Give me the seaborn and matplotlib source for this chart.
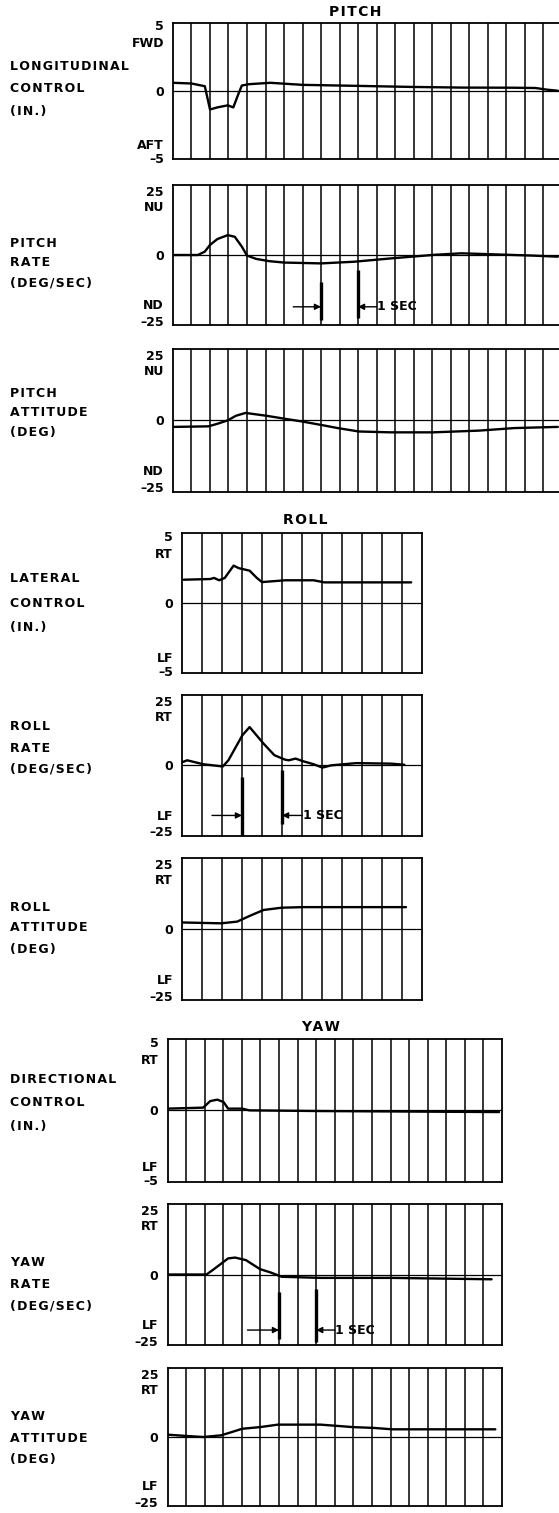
import numpy as np
import matplotlib
matplotlib.use("Agg")
import matplotlib.pyplot as plt
import seaborn as sns

# Strip-chart traces (time in s, one grid division = 0.5 s)
pitch_ctrl_t = [0, 0.5, 0.86, 1.0, 1.2, 1.48, 1.63, 1.77, 1.86, 2.06, 2.63, 3.5, 4.9, 6.4, 7.8, 9.2, 9.8, 10.1, 10.4]
pitch_ctrl = [0.6, 0.55, 0.35, -1.35, -1.2, -1.05, -1.2, -0.2, 0.4, 0.5, 0.6, 0.45, 0.38, 0.3, 0.25, 0.24, 0.22, 0.1, 0.02]

pitch_rate_t = [0, 0.67, 0.86, 1.0, 1.2, 1.48, 1.67, 1.86, 2.0, 2.25, 2.6, 3.0, 4.0, 4.9, 5.9, 6.45, 7.1, 7.8, 8.75, 9.7, 10.4]
pitch_rate = [0, 0, 1.2, 3.6, 5.7, 7.1, 6.5, 3.0, -0.2, -1.4, -2.2, -2.7, -3.0, -2.4, -1.2, -0.6, 0.1, 0.6, 0.2, -0.2, -0.6]

pitch_att_t = [0, 0.96, 1.2, 1.48, 1.7, 1.96, 2.53, 3.0, 3.49, 4.0, 4.45, 5.02, 5.88, 7.03, 8.27, 9.23, 10.4]
pitch_att = [-2.3, -2.1, -1.2, 0, 1.6, 2.6, 1.6, 0.6, -0.4, -1.6, -2.7, -3.9, -4.2, -4.2, -3.6, -2.7, -2.3]

roll_ctrl_t = [0.04, 0.71, 0.8, 0.93, 1.07, 1.29, 1.42, 1.69, 1.87, 2.0, 2.58, 3.29, 3.56, 4.36, 5.73]
roll_ctrl = [1.67, 1.72, 1.8, 1.63, 1.8, 2.68, 2.5, 2.32, 1.8, 1.5, 1.63, 1.63, 1.48, 1.48, 1.48]

roll_rate_t = [0.02, 0.13, 0.53, 1.02, 1.16, 1.51, 1.69, 2.04, 2.31, 2.58, 2.67, 2.84, 3.02, 3.29, 3.51, 3.73, 4.36, 5.24, 5.56]
roll_rate = [1.2, 1.8, 0.4, -0.4, 1.8, 10.7, 13.6, 7.7, 3.6, 2.0, 1.8, 2.4, 1.5, 0.4, -0.8, 0.0, 0.8, 0.6, 0.2]

roll_att_t = [0, 0.98, 1.38, 1.69, 2.04, 2.49, 3.02, 5.6]
roll_att = [2.3, 2.0, 2.6, 4.6, 6.7, 7.5, 7.7, 7.7]

yaw_ctrl_t = [0, 0.96, 1.15, 1.34, 1.51, 1.63, 2.01, 2.2, 4.12, 8.92]
yaw_ctrl = [0.12, 0.19, 0.65, 0.75, 0.58, 0.12, 0.12, 0.0, -0.05, -0.12]

yaw_rate_t = [0, 1.05, 1.25, 1.63, 1.82, 2.11, 2.49, 2.78, 3.07, 4.12, 6.04, 8.72]
yaw_rate = [0, 0, 1.9, 5.7, 6.0, 5.1, 1.9, 0.7, -0.8, -1.2, -1.2, -1.7]

yaw_att_t = [0, 0.48, 0.96, 1.44, 1.73, 2.01, 2.49, 2.97, 4.12, 4.99, 5.56, 6.04, 8.82]
yaw_att = [0.85, 0.4, 0.0, 0.6, 1.8, 3.0, 3.6, 4.5, 4.5, 3.6, 3.3, 2.8, 2.8]

# "1 SEC" reference marks on the rate traces
pitch_sec = [4.0, 5.0]
roll_sec = [1.5, 2.5]
yaw_sec = [3.0, 4.0]

W, H = 559, 1513
sns.set_style("white")
plt.rcParams['font.family'] = ['DejaVu Sans']
plt.rcParams['font.weight'] = 'bold'
plt.rcParams['text.color'] = 'black'
plt.rcParams['ytick.color'] = 'black'
FS = 9
SP = '\u200a'  # hair space, gives the spaced-out lettering of the original

fig = plt.figure(figsize=(W / 100, H / 100), dpi=100)


def spaced(s, sp=SP):
    return sp.join(s)


def px_axes(left, top, right, bottom):
    return fig.add_axes([left / W, 1 - bottom / H, (right - left) / W, (bottom - top) / H])


def strip(ax, t, y, tmax, lim, ticks, labels):
    ax.set_xlim(0, tmax)
    ax.set_ylim(-lim, lim)
    ax.set_xticks(np.arange(0.5, tmax, 0.5))
    ax.grid(axis='x', color='black', lw=1.1)
    ax.tick_params(axis='x', length=0, labelbottom=False)
    ax.set_yticks(ticks)
    ax.set_yticklabels(labels, fontweight='bold', color='black')
    ax.tick_params(axis='y', length=0, pad=6.5, labelsize=FS)
    for s in ax.spines.values():
        s.set_color('black')
        s.set_linewidth(1.3)
    ax.axhline(0, color='black', lw=0.9, zorder=2)
    sns.lineplot(x=t, y=y, ax=ax, color='black', lw=1.7, zorder=3)
    ax.set_xlabel('')
    ax.set_ylabel('')


def one_sec(ax, marks, seg0, seg1, ya, tail):
    ax.vlines(marks[0], seg0[0], seg0[1], color='black', lw=2.4, zorder=4)
    ax.vlines(marks[1], seg1[0], seg1[1], color='black', lw=2.4, zorder=4)
    ap = dict(arrowstyle='-|>', color='black', lw=1.0, mutation_scale=9, shrinkA=0, shrinkB=0)
    ax.annotate('', xy=(marks[0], ya), xytext=(marks[0] - tail, ya), arrowprops=ap)
    ax.annotate('', xy=(marks[1], ya), xytext=(marks[1] + 0.5, ya), arrowprops=ap)
    ax.text(marks[1] + 0.52, ya, '1 SEC', ha='left', va='center', fontsize=FS, fontweight='bold')


def side_label(lines, yc, gap):
    n = len(lines)
    for i, s in enumerate(lines):
        fig.text(10 / W, 1 - (yc + (i - (n - 1) / 2) * gap) / H, spaced(s), ha='left', va='center',
                 fontsize=FS, fontweight='bold')


def group_title(s, xc, yc):
    fig.text(xc / W, 1 - yc / H, spaced(s), ha='center', va='center',
             fontsize=10, fontweight='bold')


ctrl_ticks = [4.8, 3.6, 0, -3.9, -4.9]
big_ticks = [23, 17.5, 0, -17.5, -23.5]

# ---------------- PITCH ----------------
group_title('PITCH', 355, 12)
ax = px_axes(173, 22.7, 580, 159.3)
strip(ax, pitch_ctrl_t, pitch_ctrl, 11, 5, ctrl_ticks, ['5', 'FWD', '0', 'AFT', '\u20135'])
side_label(['LONGITUDINAL', 'CONTROL', '(IN.)'], 89, 23)

ax = px_axes(173, 185, 580, 325)
strip(ax, pitch_rate_t, pitch_rate, 11, 25, big_ticks, ['25', 'NU', '0', 'ND', '\u201325'])
one_sec(ax, pitch_sec, (-9.5, -23.2), (-5.4, -22.6), -18.5, 0.75)
side_label(['PITCH', 'RATE', '(DEG/SEC)'], 263, 19.5)

ax = px_axes(173, 349, 580, 491.7)
strip(ax, pitch_att_t, pitch_att, 11, 25, big_ticks, ['25', 'NU', '0', 'ND', '\u201325'])
side_label(['PITCH', 'ATTITUDE', '(DEG)'], 413, 19.5)

# ---------------- ROLL ----------------
group_title('ROLL', 305, 520)
ax = px_axes(182, 533.3, 422, 672.7)
strip(ax, roll_ctrl_t, roll_ctrl, 6, 5, ctrl_ticks, ['5', 'RT', '0', 'LF', '\u20135'])
side_label(['LATERAL', 'CONTROL', '(IN.)'], 603, 24)

ax = px_axes(182, 695, 422, 835.7)
strip(ax, roll_rate_t, roll_rate, 6, 25, big_ticks, ['25', 'RT', '0', 'LF', '\u201325'])
one_sec(ax, roll_sec, (-4.1, -25), (-1.8, -20.7), -17.8, 0.75)
side_label(['ROLL', 'RATE', '(DEG/SEC)'], 748, 21)

ax = px_axes(182, 858, 422, 1000)
strip(ax, roll_att_t, roll_att, 6, 25, big_ticks, ['25', 'RT', '0', 'LF', '\u201325'])
side_label(['ROLL', 'ATTITUDE', '(DEG)'], 928, 21)

# ---------------- YAW ----------------
group_title('YAW', 321, 1027)
ax = px_axes(167.5, 1039, 502, 1181.7)
strip(ax, yaw_ctrl_t, yaw_ctrl, 9, 5, ctrl_ticks, ['5', 'RT', '0', 'LF', '\u20135'])
side_label(['DIRECTIONAL', 'CONTROL', '(IN.)'], 1103, 23.3)

ax = px_axes(167.5, 1204, 502, 1345)
strip(ax, yaw_rate_t, yaw_rate, 9, 25, big_ticks, ['25', 'RT', '0', 'LF', '\u201325'])
one_sec(ax, yaw_sec, (-6.1, -22.7), (-5.0, -23.9), -19.7, 0.85)
side_label(['YAW', 'RATE', '(DEG/SEC)'], 1284, 21.7)

ax = px_axes(167.5, 1368.3, 502, 1505.7)
strip(ax, yaw_att_t, yaw_att, 9, 25, big_ticks, ['25', 'RT', '0', 'LF', '\u201325'])
side_label(['YAW', 'ATTITUDE', '(DEG)'], 1438, 21.7)

fig.savefig('out.png', dpi=100)
